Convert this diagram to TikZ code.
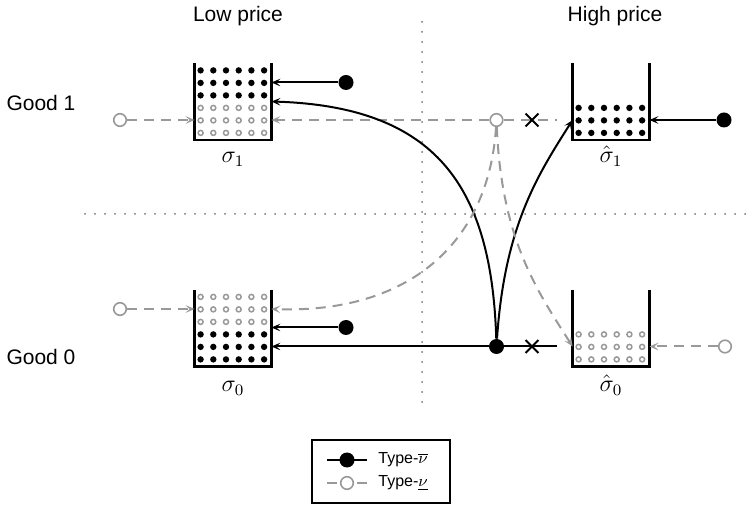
\documentclass[tikz,border=0pt]{standalone}
\usepackage{fontspec}
\setmainfont{Liberation Sans}
\usepackage{xcolor}
\usepackage{tikz}
\usetikzlibrary{arrows.meta, positioning, calc, shapes.misc}

\definecolor{typeGray}{gray}{0.6}
\definecolor{guideGray}{gray}{0.45}

\begin{document}
\begin{tikzpicture}[
  x=0.5pt, y=-0.5pt,
  cup/.style={rectangle, inner sep=0pt, minimum width=38pt, minimum height=38pt},
  wall/.style={line width=1.2pt, draw=black},
  hi_dot/.style={circle, fill=black, inner sep=0pt, minimum size=7.5pt},
  lo_dot/.style={circle, draw=typeGray, fill=white, line width=0.8pt, inner sep=0pt, minimum size=6.3pt},
  blocked/.style={cross out, draw=black, line width=0.9pt, inner sep=0pt, minimum size=5.5pt},
  hi_flow/.style={line width=1pt, draw=black},
  lo_flow/.style={line width=1pt, draw=typeGray, dash pattern=on 5pt off 3.5pt},
  arrow/.style={-{Stealth[length=4.5pt, width=3.8pt, inset=2pt]}},
  guide/.style={draw=guideGray, line width=1pt, line cap=round, dash pattern=on 0pt off 5pt},
  head_lbl/.style={font=\fontsize{10.5}{12}\selectfont},
  cup_lbl/.style={font=\fontsize{12}{14}\selectfont, anchor=base},
  key_lbl/.style={font=\footnotesize, anchor=west, inner sep=0pt}
]
  \useasboundingbox (0,0) rectangle (753,506);

  % Dotted guides between prices and goods
  \coordinate (gTop) at (422,22);
  \coordinate (gBot) at (422,402);
  \coordinate (gLeft) at (85,214);
  \coordinate (gRight) at (750,214);
  \draw[guide] (gTop) -- (gBot);
  \draw[guide] (gLeft) -- (gRight);

  % Headings
  \node[head_lbl] (lowHead) at (238,16) {Low price};
  \node[head_lbl] (highHead) at (615,16) {High price};
  \node[head_lbl] (goodOne) at (41,103) {Good 1};
  \node[head_lbl] (goodZero) at (41,357) {Good 0};

  % Cups (open at the top)
  \node[cup] (lowOne) at (233,101.5) {};
  \node[cup] (lowZero) at (233,328) {};
  \node[cup] (highOne) at (611,101.5) {};
  \node[cup] (highZero) at (611,328) {};
  \foreach \c in {lowOne,lowZero,highOne,highZero}
    \draw[wall] (\c.north west) -- (\c.south west) -- (\c.south east) -- (\c.north east);

  % Contents, rows counted from the bottom
  \foreach \i in {0,...,5} {
    \foreach \j in {3,4,5} {
      \fill ($(lowOne.south west)+(6+12.7*\i,-7-12.5*\j)$) circle (1.6pt);
      \draw[typeGray, line width=0.75pt] ($(lowZero.south west)+(6+12.7*\i,-7-12.5*\j)$) circle (1.25pt);
    }
    \foreach \j in {0,1,2} {
      \draw[typeGray, line width=0.75pt] ($(lowOne.south west)+(6+12.7*\i,-7-12.5*\j)$) circle (1.25pt);
      \fill ($(lowZero.south west)+(6+12.7*\i,-7-12.5*\j)$) circle (1.6pt);
      \fill ($(highOne.south west)+(6+12.7*\i,-7-12.5*\j)$) circle (1.6pt);
      \draw[typeGray, line width=0.75pt] ($(highZero.south west)+(6+12.7*\i,-7-12.5*\j)$) circle (1.25pt);
    }
  }

  \node[cup_lbl] (sigOne) at (233,163) {$\sigma_1$};
  \node[cup_lbl] (sigZero) at (233,392) {$\sigma_0$};
  \node[cup_lbl] (hatOne) at (611,163) {$\hat{\sigma}_1$};
  \node[cup_lbl] (hatZero) at (611,392) {$\hat{\sigma}_0$};

  % Good 1
  \node[lo_dot] (loInOne) at (120,120) {};
  \node[hi_dot] (hiStayOne) at (346,82.5) {};
  \node[lo_dot] (loMoveOne) at (496.5,120) {};
  \coordinate (stopOne) at (557,120);
  \node[hi_dot] (hiInOne) at (724,120) {};

  \draw[lo_flow, arrow] (loInOne) -- (loInOne -| lowOne.west);
  \draw[hi_flow, arrow] (hiStayOne) -- (hiStayOne -| lowOne.east);
  \draw[lo_flow, arrow] (loMoveOne) -- (loMoveOne -| lowOne.east);
  \draw[lo_flow] (loMoveOne) -- (stopOne);
  \draw[hi_flow, arrow] (hiInOne) -- (hiInOne -| highOne.east);

  % Good 0
  \node[lo_dot] (loInZero) at (120,309) {};
  \node[hi_dot] (hiStayZero) at (346,327.5) {};
  \node[hi_dot] (hiMoveZero) at (496.5,346.5) {};
  \coordinate (stopZero) at (557,346.5);
  \node[lo_dot] (loInHigh) at (725,346.5) {};

  \draw[lo_flow, arrow] (loInZero) -- (loInZero -| lowZero.west);
  \draw[hi_flow, arrow] (hiStayZero) -- (hiStayZero -| lowZero.east);
  \draw[hi_flow, arrow] (hiMoveZero) -- (hiMoveZero -| lowZero.east);
  \draw[hi_flow] (hiMoveZero) -- (stopZero);
  \draw[lo_flow, arrow] (loInHigh) -- (loInHigh -| highZero.east);

  % Switching between goods
  \draw[hi_flow, arrow] (hiMoveZero) .. controls +(-5,-160) and +(165,5) .. (lowOne.east);
  \draw[hi_flow, arrow] (hiMoveZero) .. controls +(8,-120) and +(-35,55) .. (loMoveOne -| highOne.west);
  \draw[lo_flow, arrow] (loMoveOne) .. controls +(-8,125) and +(135,5) .. (loInZero -| lowZero.east);
  \draw[lo_flow, arrow] (loMoveOne) .. controls +(5,120) and +(-35,-55) .. (hiMoveZero -| highZero.west);

  \node[blocked] (blockOne) at (532,120) {};
  \node[blocked] (blockZero) at (532,346.5) {};

  % Legend
  \node[draw=black, line width=0.65pt, minimum width=69pt, minimum height=31.5pt, inner sep=0pt] (legend) at (381,471.5) {};
  \coordinate (keyHiL) at (327,460);
  \coordinate (keyHiR) at (367,460);
  \draw[hi_flow] (keyHiL) -- (keyHiR);
  \node[hi_dot] (keyHi) at (347,460) {};
  \node[key_lbl] (keyHiTxt) at (378,460) {Type-$\overline{\nu}$};
  \coordinate (keyLoL) at (327,483);
  \coordinate (keyLoR) at (367,483);
  \draw[lo_flow, dash pattern=on 5pt off 10pt] (keyLoL) -- (keyLoR);
  \node[lo_dot] (keyLo) at (347,483) {};
  \node[key_lbl] (keyLoTxt) at (378,483) {Type-$\underline{\nu}$};

\end{tikzpicture}
\end{document}
